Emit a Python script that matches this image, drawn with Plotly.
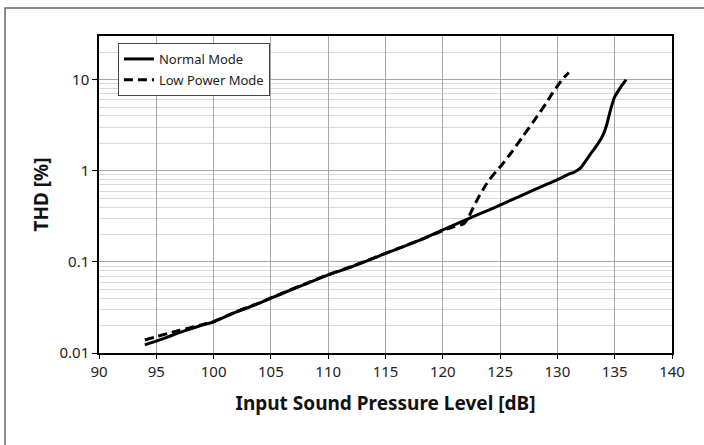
import plotly.graph_objects as go

normal_x = [94, 95, 96, 97, 98, 99, 100, 102, 104, 105, 106, 108, 110, 112, 114, 115, 116, 118, 120,
            122, 124, 126, 128, 130, 131, 131.5, 132, 132.5, 133, 133.5, 134, 134.3, 134.6, 134.8, 135, 135.5, 136]
normal_y = [0.0123, 0.0135, 0.015, 0.0167, 0.0184, 0.0202, 0.022, 0.0283, 0.0352, 0.040, 0.045, 0.057, 0.072,
            0.088, 0.11, 0.124, 0.138, 0.173, 0.225, 0.29, 0.37, 0.48, 0.62, 0.80, 0.92, 0.97, 1.07, 1.3, 1.6,
            1.95, 2.5, 3.2, 4.5, 5.5, 6.5, 8.2, 10]

low_x = [94, 95, 96, 97, 98, 99, 100, 102, 104, 106, 108, 110, 112, 114, 116, 118, 120, 121, 121.8,
         122.2, 122.5, 123, 123.5, 124, 124.7, 125, 126, 127, 128, 129, 129.5, 130, 130.5, 131]
low_y = [0.0139, 0.0151, 0.0164, 0.0177, 0.0190, 0.0205, 0.0222, 0.0285, 0.0355, 0.0455, 0.0575, 0.0725,
         0.089, 0.111, 0.139, 0.174, 0.22, 0.245, 0.26, 0.30, 0.36, 0.48, 0.62, 0.78, 1.0, 1.1, 1.6, 2.4,
         3.6, 5.5, 6.9, 8.5, 10.3, 12]

x_ticks = [90, 95, 100, 105, 110, 115, 120, 125, 130, 135, 140]
y_ticks = [0.01, 0.1, 1, 10]
y_tick_labels = ["0.01", "0.1", "1", "10"]

FONT = "Noto Sans"

fig = go.Figure()
fig.add_trace(go.Scatter(x=normal_x, y=normal_y, mode="lines", name="Normal Mode", legendgroup="a",
                         line=dict(color="black", width=3, shape="spline", smoothing=0.6)))
fig.add_trace(go.Scatter(x=low_x, y=low_y, mode="lines", name="Low Power Mode", legendgroup="b",
                         line=dict(color="black", width=3, dash="9px,5px", shape="spline", smoothing=0.6)))

fig.update_layout(
    width=704, height=445,
    margin=dict(l=99, r=32, t=36, b=92),
    paper_bgcolor="white", plot_bgcolor="white",
    font=dict(family=FONT, size=14, color="#222"),
    showlegend=True,
    legend=dict(x=0.033, y=0.978, xanchor="left", yanchor="top",
                bgcolor="white", bordercolor="#444", borderwidth=1,
                font=dict(size=13, color="#222"), tracegroupgap=1),
    xaxis=dict(range=[90, 140], tickvals=x_ticks, showgrid=True, gridcolor="#a6a6a6", gridwidth=1,
               showline=True, linecolor="black", linewidth=1.5, mirror=True,
               ticks="outside", ticklen=4, tickcolor="black", zeroline=False,
               tickfont=dict(size=15),
               title=dict(text="<b>Input Sound Pressure Level [dB]</b>", font=dict(size=19, color="#111"), standoff=17)),
    yaxis=dict(type="log", range=[-2, 1.48], tickvals=y_ticks, ticktext=y_tick_labels,
               showgrid=True, gridcolor="#a6a6a6", gridwidth=1,
               minor=dict(showgrid=True, gridcolor="#d9d9d9", gridwidth=1,
                          tickvals=[m * 10 ** e for e in range(-2, 2) for m in range(2, 10)]),
               showline=True, linecolor="black", linewidth=1.5, mirror=True,
               ticks="outside", ticklen=5, tickcolor="black", zeroline=False,
               tickfont=dict(size=15),
               title=dict(text="<b>THD [%]</b>", font=dict(size=19, color="#111"), standoff=6)),
    shapes=[dict(type="rect", xref="paper", yref="paper", x0=-0.164, x1=1.2, y0=-0.5, y1=1.088,
                 line=dict(color="#666", width=1.5), fillcolor="rgba(0,0,0,0)", layer="below")],
)

fig.write_html("out.html", config={"displayModeBar": False},
               post_script="document.body.style.margin='0px';")
